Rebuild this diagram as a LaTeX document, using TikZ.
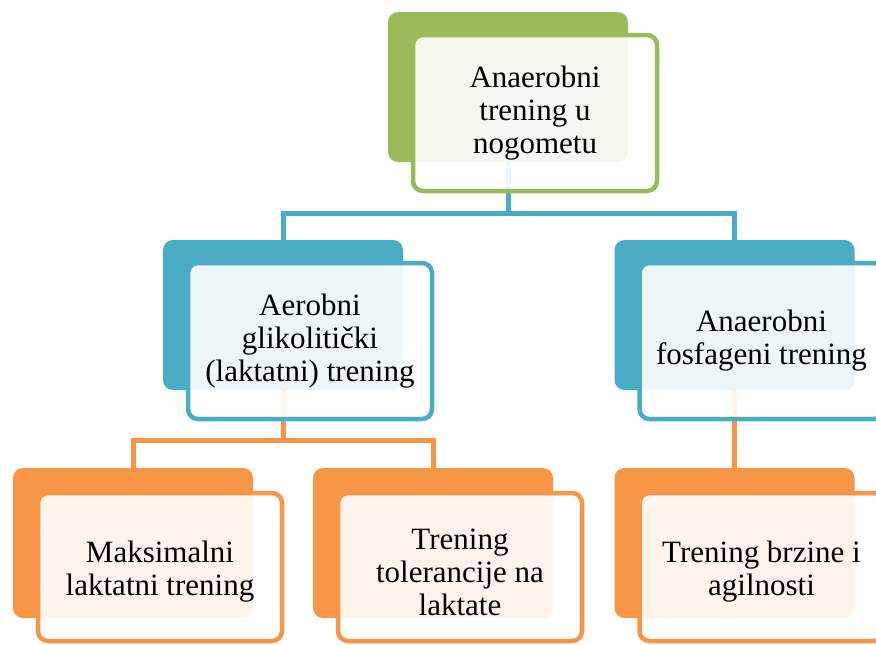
\documentclass[tikz,border=0pt]{standalone}
\usepackage{fontspec}
\setmainfont{Liberation Serif}
\definecolor{cgreen}{HTML}{9BBB59}
\definecolor{cblue}{HTML}{4BACC6}
\definecolor{corange}{HTML}{F79646}
\tikzset{
  backbox/.style={draw=none, fill=#1, rounded corners=10pt, minimum width=240pt, minimum height=150pt, inner sep=0pt},
  frontbox/.style={draw=#1, line width=4.5pt, fill=white, fill opacity=0.9, text opacity=1, rounded corners=10pt,
    minimum width=244pt, minimum height=156pt, align=center, inner sep=0pt, text=black,
    font=\fontsize{31}{33}\selectfont},
  txt/.style={align=center, inner sep=0pt, text=black, font=\fontsize{31}{33}\selectfont},
  conn/.style={draw=#1, line width=5pt},
}
\begin{document}
\begin{tikzpicture}[x=1pt,y=-1pt]
\clip (0,0) rectangle (876,645);
\fill[white] (0,0) rectangle (876,645);
% back boxes
\node[backbox=cgreen]  (b0) at (508,87) {};
\node[backbox=cblue]   (b1) at (283,315) {};
\node[backbox=cblue]   (b2) at (734.5,315) {};
\node[backbox=corange] (b3) at (133,543) {};
\node[backbox=corange] (b4) at (433,543) {};
\node[backbox=corange] (b5) at (734.5,543) {};
% connectors
\coordinate (j0) at (508,213);
\coordinate (j1) at (283,440);
\draw[conn=cblue] (b0.south) -- (j0) -| (b1.north);
\draw[conn=cblue] (j0) -| (b2.north);
\draw[conn=corange] (b1.south) -- (j1) -| (b3.north);
\draw[conn=corange] (j1) -| (b4.north);
\draw[conn=corange] (b2.south) -- (b5.north);
% front boxes
\node[frontbox=cgreen]  (f0) at (535,113) {Anaerobni\\trening u\\nogometu};
\node[frontbox=cblue]   (f1) at (310,341) {Aerobni\\glikolitički\\(laktatni) trening};
\node[frontbox=cblue]   (f2) at (761.5,341) {Anaerobni\\fosfageni trening};
\node[frontbox=corange, minimum height=148pt] (f3) at (160,567) {};
\node[frontbox=corange, minimum height=148pt] (f4) at (460,567) {};
\node[frontbox=corange, minimum height=148pt] (f5) at (761.5,567) {};
\node[txt] (t3) at (160,572) {Maksimalni\\laktatni trening};
\node[txt] (t4) at (460,572) {Trening\\tolerancije na\\laktate};
\node[txt] (t5) at (761.5,572) {Trening brzine i\\agilnosti};
\end{tikzpicture}
\end{document}
